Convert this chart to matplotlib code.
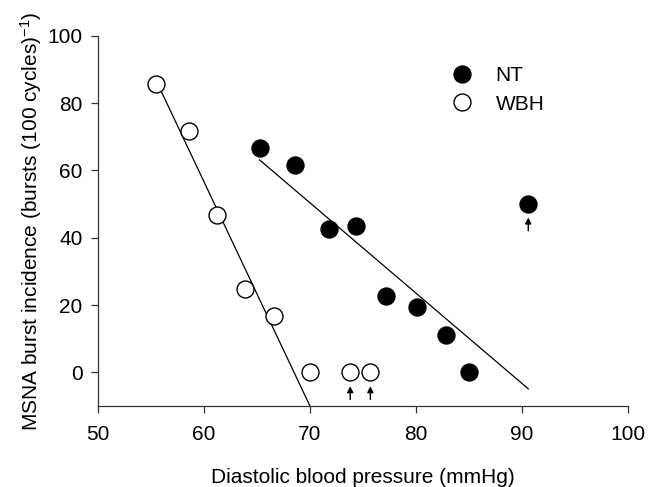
import matplotlib
matplotlib.use("Agg")
import matplotlib.pyplot as plt
import numpy as np

plt.rcParams['font.family'] = ['Liberation Sans', 'DejaVu Sans']
plt.rcParams['mathtext.fontset'] = 'custom'
plt.rcParams['mathtext.rm'] = 'Liberation Sans'
plt.rcParams['mathtext.it'] = 'Liberation Sans:italic'

# Data
nt_x = [65.25, 68.55, 71.8, 74.3, 77.2, 80.1, 82.8, 85.0, 90.6]
nt_y = [66.6, 61.6, 42.6, 43.4, 22.6, 19.3, 11.1, 0.0, 50.1]
nt_arrow = [False, False, False, False, False, False, False, False, True]

wbh_x = [55.47, 58.58, 61.2, 63.9, 66.6, 70.0, 73.8, 75.7]
wbh_y = [85.6, 71.7, 46.6, 24.7, 16.6, 0.0, 0.0, 0.0]
wbh_arrow = [False, False, False, False, False, False, True, True]

# regression lines (end points)
nt_fit_x = [65.25, 90.6]
nt_fit_y = [63.1, -4.9]
wbh_fit_x = [55.47, 70.0]
wbh_fit_y = [86.8, -10.0]

xticks = [50, 60, 70, 80, 90, 100]
yticks = [0, 20, 40, 60, 80, 100]

fs = 15

fig = plt.figure(figsize=(6.48, 4.87), dpi=100)
ax = fig.add_axes([0.1512, 0.1663, 0.969 - 0.1512, 0.9267 - 0.1663])

ax.plot(nt_fit_x, nt_fit_y, color='black', lw=0.9, zorder=1)
ax.plot(wbh_fit_x, wbh_fit_y, color='black', lw=0.9, zorder=1)

ms = 12.2
ax.plot(nt_x, nt_y, 'o', ms=ms, mfc='black', mec='black', mew=1.0,
        label='NT', zorder=3, clip_on=False)
ax.plot(wbh_x, wbh_y, 'o', ms=ms, mfc='white', mec='black', mew=1.0,
        label='WBH', zorder=3, clip_on=False)

for xs, ys, fl in ((nt_x, nt_y, nt_arrow), (wbh_x, wbh_y, wbh_arrow)):
    for x, y, f in zip(xs, ys, fl):
        if f:
            ax.annotate('', xy=(x, y), xytext=(0, -19.5), textcoords='offset points',
                        arrowprops=dict(arrowstyle='-|>,head_length=0.35,head_width=0.18',
                                        color='black', lw=1.0, shrinkA=0, shrinkB=10))

ax.set_xlim(50, 100)
ax.set_ylim(-10, 100)
ax.set_xticks(xticks)
ax.set_yticks(yticks)
ax.tick_params(axis='both', labelsize=fs, direction='out', length=5, width=0.9,
               color='#333333', pad=6)
ax.tick_params(axis='x', pad=9)
for s in ('top', 'right'):
    ax.spines[s].set_visible(False)
for s in ('left', 'bottom'):
    ax.spines[s].set_linewidth(0.9)
    ax.spines[s].set_color('#333333')

ax.set_xlabel('Diastolic blood pressure (mmHg)', fontsize=fs, labelpad=17)
ax.set_ylabel(r'MSNA burst incidence (bursts (100 cycles)$^{-1}$)', fontsize=fs, labelpad=2.5)

leg = ax.legend(loc='upper left', bbox_to_anchor=(0.652, 0.94), frameon=False,
                fontsize=fs, handletextpad=1.1, labelspacing=0.45, borderaxespad=0,
                handlelength=1.0)

fig.savefig('out.png', dpi=100)
